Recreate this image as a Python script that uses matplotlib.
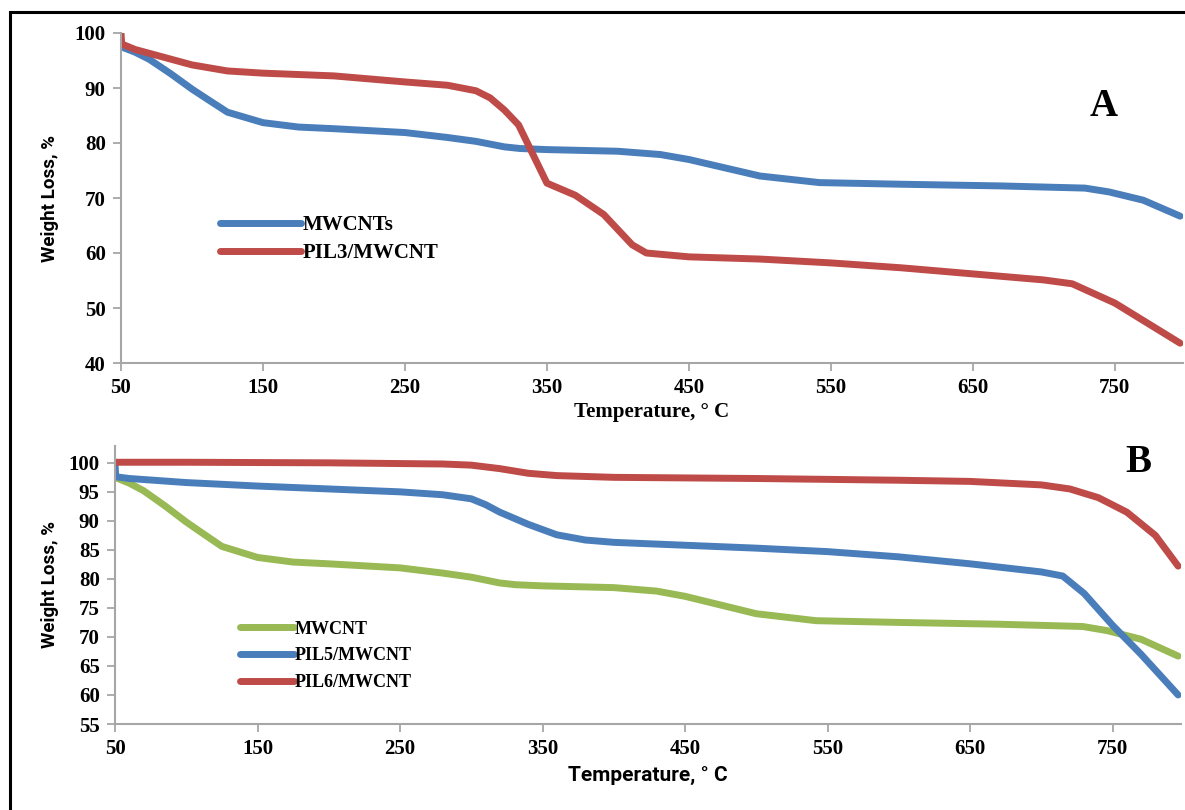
import matplotlib.pyplot as plt
from matplotlib.patches import Rectangle

# panel A
temp_a = [50, 60, 70, 85, 100, 113, 125, 150, 175, 200, 250, 280, 300, 320, 331,
          350, 400, 430, 450, 475, 500, 542, 600, 669, 729, 746, 770, 796]
mwcnts_a = [97.5, 96.5, 95.2, 92.6, 89.8, 87.6, 85.6, 83.7, 82.9, 82.6, 81.9, 81.0,
            80.3, 79.3, 79.0, 78.8, 78.5, 77.9, 77.0, 75.5, 74.0, 72.8, 72.5, 72.2,
            71.8, 71.1, 69.6, 66.7]
temp_a_pil = [50, 50.5, 60, 80, 100, 125, 150, 200, 250, 280, 300, 310, 320, 330,
              340, 350, 370, 390, 410, 420, 450, 500, 550, 600, 650, 700, 720,
              750, 796]
pil3 = [100, 98.0, 97.0, 95.6, 94.2, 93.1, 92.7, 92.2, 91.1, 90.5, 89.5, 88.2,
        86.0, 83.3, 78.0, 72.7, 70.5, 67.0, 61.5, 60.0, 59.3, 58.9, 58.2, 57.3,
        56.2, 55.1, 54.4, 50.9, 43.6]

# panel B
temp_b = temp_a
mwcnt_b = mwcnts_a
temp_b5 = [50, 50.5, 60, 100, 150, 200, 250, 280, 300, 310, 320, 340, 360, 380,
           400, 450, 500, 550, 600, 650, 700, 715, 730, 750, 770, 796]
pil5 = [100, 97.6, 97.3, 96.6, 96.0, 95.5, 95.0, 94.5, 93.8, 92.8, 91.5, 89.4,
        87.6, 86.7, 86.3, 85.8, 85.3, 84.7, 83.8, 82.6, 81.2, 80.5, 77.5, 72.0,
        67.0, 60.0]
temp_b6 = [50, 100, 200, 280, 300, 320, 340, 360, 400, 500, 600, 650, 700, 720,
           740, 760, 780, 796]
pil6 = [100.1, 100.1, 100.0, 99.8, 99.6, 99.0, 98.2, 97.8, 97.5, 97.3, 97.0,
        96.8, 96.2, 95.5, 94.0, 91.5, 87.5, 82.2]

blue = '#4a7ebb'
red = '#be4b48'
green = '#98b954'
grey = '#a6a6a6'
serif = 'Liberation Serif'
sans = ['Roboto', 'DejaVu Sans']
W, H = 1185, 810

fig = plt.figure(figsize=(11.85, 8.1), dpi=100)
fig.patches.append(Rectangle((10 / W, -0.01), 1.2, 1 - 12 / H + 0.01,
                             transform=fig.transFigure, fill=False,
                             edgecolor='black', linewidth=2.2))


def style(ax, yticks):
    for s in ['top', 'right']:
        ax.spines[s].set_visible(False)
    for s in ['left', 'bottom']:
        ax.spines[s].set_color(grey)
        ax.spines[s].set_linewidth(1.5)
    ax.set_xticks([50, 150, 250, 350, 450, 550, 650, 750])
    ax.set_yticks(yticks)
    ax.tick_params(direction='out', length=6, width=1.3, color=grey, pad=5)
    for lab in ax.get_xticklabels() + ax.get_yticklabels():
        lab.set_fontfamily(serif)
        lab.set_fontweight('bold')
        lab.set_fontsize(15)


axa = fig.add_axes([121 / W, 1 - 363 / H, 1062 / W, 330 / H])
axa.plot(temp_a, mwcnts_a, color=blue, lw=5, label='MWCNTs', solid_capstyle='round')
axa.plot(temp_a_pil, pil3, color=red, lw=5, label='PIL3/MWCNT', solid_capstyle='round')
axa.set_xlim(50, 798)
axa.set_ylim(40, 100)
style(axa, [40, 50, 60, 70, 80, 90, 100])
axa.set_xlabel('Temperature, ° C', fontfamily=serif, fontweight='bold', fontsize=15, labelpad=3)
axa.set_ylabel('Weight Loss, %', fontfamily=sans, fontweight='bold', fontsize=13.5, labelpad=11)
axa.legend(loc='center left', bbox_to_anchor=(220 / W, 1 - 239 / H),
           bbox_transform=fig.transFigure, frameon=False, borderpad=0, borderaxespad=0,
           handlelength=3.9, handletextpad=0.05, labelspacing=0.4,
           prop={'family': serif, 'weight': 'bold', 'size': 15})

axb = fig.add_axes([115 / W, 1 - 724 / H, 1066 / W, 278 / H])
axb.plot(temp_b, mwcnt_b, color=green, lw=5, label='MWCNT', solid_capstyle='round')
axb.plot(temp_b5, pil5, color=blue, lw=5, label='PIL5/MWCNT', solid_capstyle='round')
axb.plot(temp_b6, pil6, color=red, lw=5, label='PIL6/MWCNT', solid_capstyle='round')
axb.set_xlim(50, 798)
axb.set_ylim(55, 102.9)
style(axb, [55, 60, 65, 70, 75, 80, 85, 90, 95, 100])
axb.set_xlabel('Temperature, ° C', fontfamily=sans, fontweight='bold', fontsize=15, labelpad=5)
axb.set_ylabel('Weight Loss, %', fontfamily=sans, fontweight='bold', fontsize=13.5, labelpad=7)
axb.legend(loc='center left', bbox_to_anchor=(240 / W, 1 - 656 / H),
           bbox_transform=fig.transFigure, frameon=False, borderpad=0, borderaxespad=0,
           handlelength=3.0, handletextpad=0.05, labelspacing=0.55,
           prop={'family': serif, 'weight': 'bold', 'size': 13})

fig.text(1104 / W, 1 - 106 / H, 'A', fontfamily=serif, fontweight='bold',
         fontsize=28, ha='center', va='center')
fig.text(1138 / W, 1 - 462 / H, 'B', fontfamily=serif, fontweight='bold',
         fontsize=28, ha='center', va='center')

fig.savefig('out.png', dpi=100)
